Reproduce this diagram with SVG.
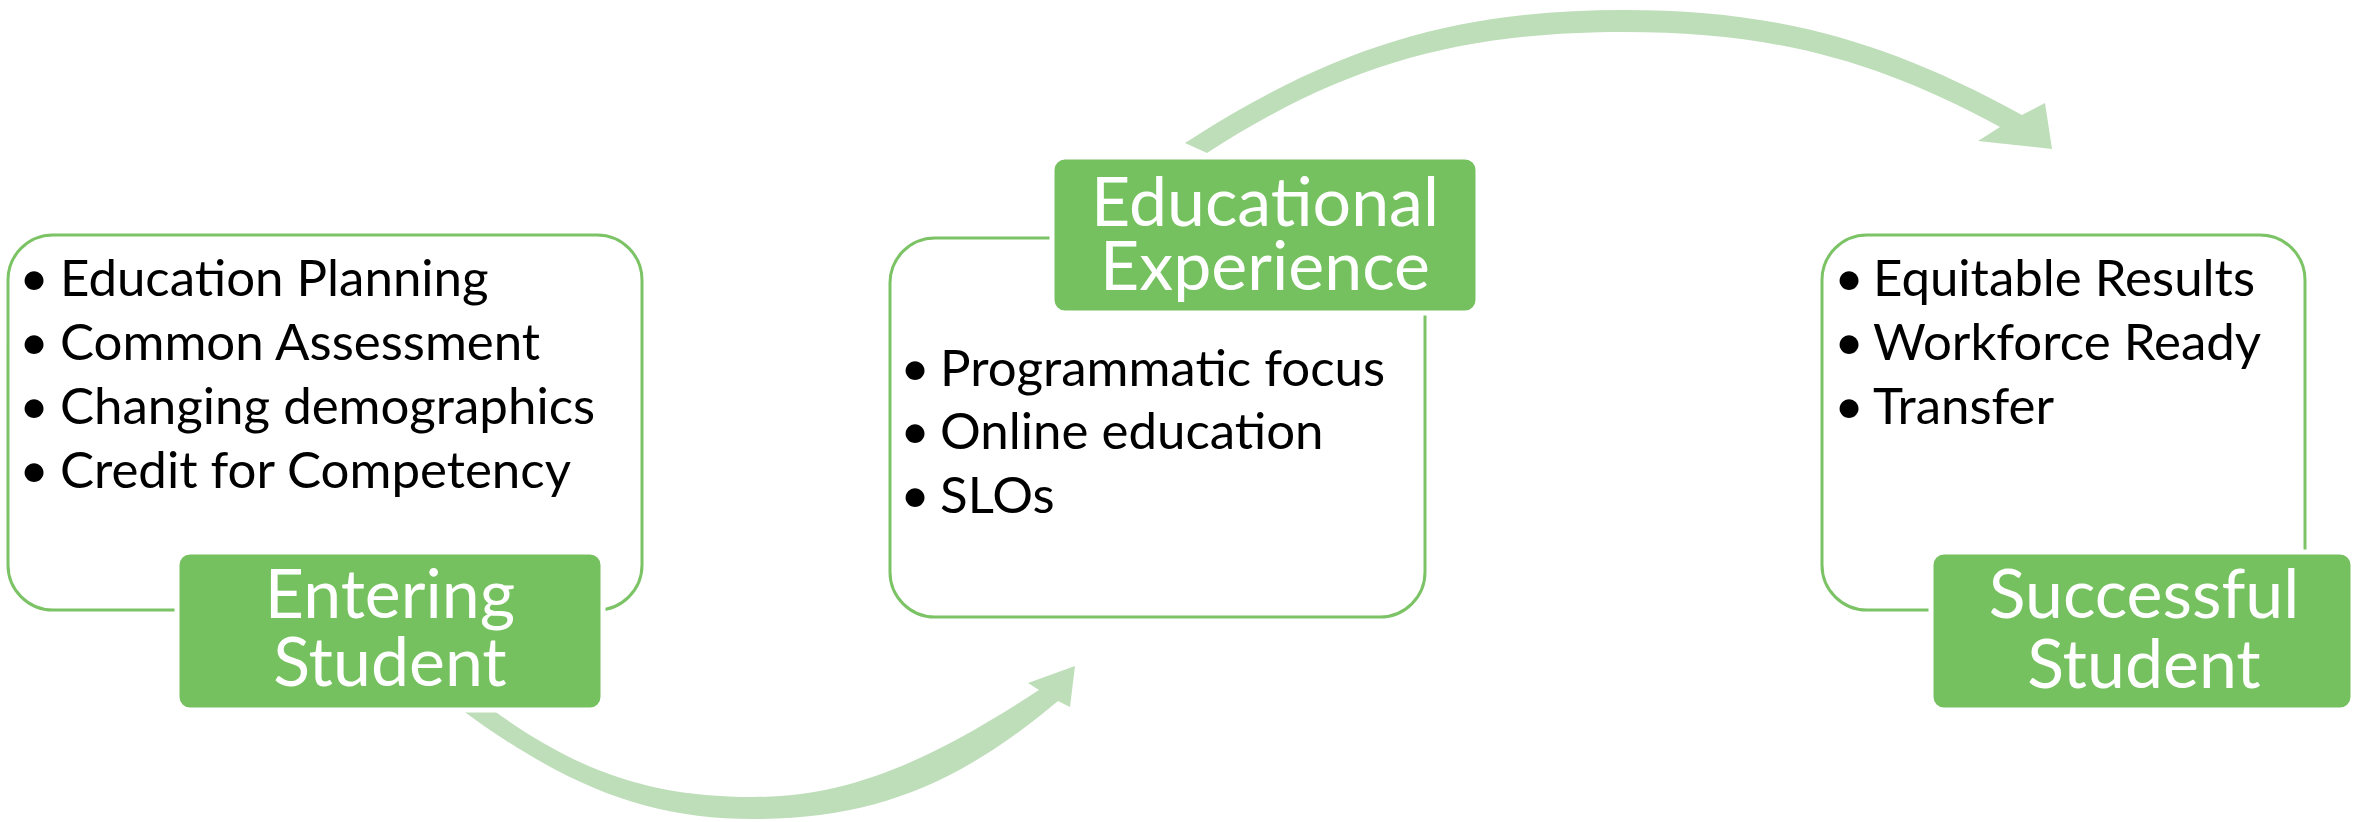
<svg xmlns="http://www.w3.org/2000/svg" width="2356" height="822" viewBox="0 0 2356 822">
<style>
.frame{fill:#fff;stroke:#7cc366;stroke-width:3}
.head{fill:#76c15f;stroke:#fff;stroke-width:5}
.arrow{fill:#bedeb9;stroke:none}
.ht{font-family:Lato,"Liberation Sans",sans-serif;font-size:68px;fill:#fff;text-anchor:middle}
.li{font-family:Lato,"Liberation Sans",sans-serif;font-size:51px;fill:#000}
.bu{font-family:Lato,"Liberation Sans",sans-serif;font-size:51px;fill:#000;text-anchor:middle}
</style>
<rect width="2356" height="822" fill="#fff"/>
<g id="frames">
<rect class="frame" x="8" y="235" width="634" height="375" rx="45"/>
<rect class="frame" x="890" y="238" width="535" height="379" rx="45"/>
<rect class="frame" x="1822" y="235" width="483" height="375" rx="45"/>
</g>
<g id="connectors">
<path class="arrow" d="M455,705 C564,786 647,819 753,819 C873,819 958,785 1058,701 L1070,707 L1075,666 L1028,683 L1039,690 C922,767 842,797 753,797 C649,797 575,771 486,705 Z"/>
<path class="arrow" d="M1185,143 C1333,47 1456,10 1624,10 C1773,10 1884,39 2022,115 L2045,103 L2052,149 L1978,141 L2000,127 C1875,59 1770,32 1624,32 C1458,32 1341,66 1207,153 Z"/>
</g>
<g id="entering-student">
<rect class="head" x="177" y="552" width="426" height="158" rx="13"/>
<text class="ht" x="390" y="618">Entering</text>
<text class="ht" x="390" y="686">Student</text>
<text class="bu" x="34" y="296">•</text><text class="li" x="60" y="296">Education Planning</text>
<text class="bu" x="34" y="360">•</text><text class="li" x="60" y="360">Common Assessment</text>
<text class="bu" x="34" y="424">•</text><text class="li" x="60" y="424">Changing demographics</text>
<text class="bu" x="34" y="488">•</text><text class="li" x="60" y="488">Credit for Competency</text>
</g>
<g id="educational-experience">
<rect class="head" x="1052" y="157" width="426" height="156" rx="13"/>
<text class="ht" x="1265" y="226">Educational</text>
<text class="ht" x="1265" y="290">Experience</text>
<text class="bu" x="915" y="386">•</text><text class="li" x="940" y="386">Programmatic focus</text>
<text class="bu" x="915" y="449">•</text><text class="li" x="940" y="449">Online education</text>
<text class="bu" x="915" y="513">•</text><text class="li" x="940" y="513">SLOs</text>
</g>
<g id="successful-student">
<rect class="head" x="1931" y="552" width="422" height="158" rx="13"/>
<text class="ht" x="2144" y="618">Successful</text>
<text class="ht" x="2144" y="688">Student</text>
<text class="bu" x="1849" y="296">•</text><text class="li" x="1873" y="296">Equitable Results</text>
<text class="bu" x="1849" y="360">•</text><text class="li" x="1873" y="360">Workforce Ready</text>
<text class="bu" x="1849" y="424">•</text><text class="li" x="1873" y="424">Transfer</text>
</g>
</svg>
